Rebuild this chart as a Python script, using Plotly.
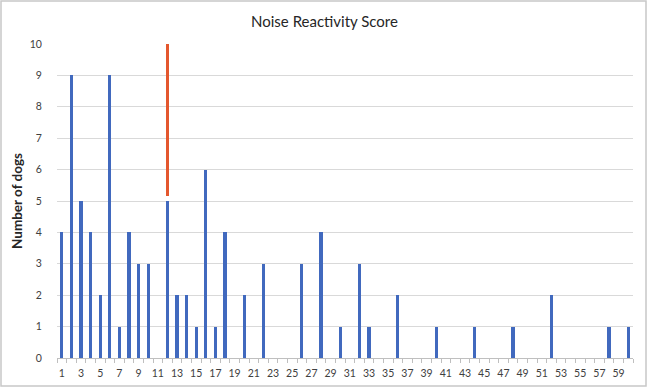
import plotly.graph_objects as go

scores = list(range(1, 61))
counts = [4, 9, 5, 4, 2, 9, 1, 4, 3, 3,
          0, 5, 2, 2, 1, 6, 1, 4, 0, 2,
          0, 3, 0, 0, 0, 3, 0, 4, 0, 1,
          0, 3, 1, 0, 0, 2, 0, 0, 0, 1,
          0, 0, 0, 1, 0, 0, 0, 1, 0, 0,
          0, 2, 0, 0, 0, 0, 0, 1, 0, 1]
marker_x = [12]
marker_base = [5.15]
marker_top = [10]
tick_labels = [str(v) for v in range(1, 60, 2)]

W, H = 649, 389
ml, mr, mt, mb = 57, 16, 44, 31
pw, ph = W - ml - mr, H - mt - mb

fig = go.Figure()
fig.add_trace(go.Bar(x=scores, y=counts, width=0.32,
                     marker=dict(color="#4169BE", line=dict(width=0)),
                     showlegend=False))
fig.add_trace(go.Bar(x=marker_x, y=[t - b for t, b in zip(marker_top, marker_base)],
                     base=marker_base, width=0.32,
                     marker=dict(color="#E4572E", line=dict(width=0)),
                     showlegend=False))

def px_x(p):
    return (p - ml) / pw

def px_y(p):
    return (H - mb - p) / ph

fig.add_shape(type="rect", xref="paper", yref="paper",
              x0=px_x(1), x1=px_x(646), y0=px_y(1), y1=px_y(386),
              line=dict(color="#C8C8C8", width=1.5), layer="below")

fig.update_layout(
    width=W, height=H,
    margin=dict(l=ml, r=mr, t=mt, b=mb, autoexpand=False),
    paper_bgcolor="white", plot_bgcolor="white",
    barmode="overlay",
    font=dict(family="Lato, Open Sans, sans-serif", color="#404040"),
    title=dict(text="Noise Reactivity Score", x=0.5, xanchor="center",
               y=1 - 22 / H, yanchor="middle",
               font=dict(size=15, color="#262626")),
    xaxis=dict(range=[0.5, 60.5], tickmode="array",
               tickvals=list(range(1, 60, 2)), ticktext=tick_labels,
               ticks="outside", ticklen=5, tickcolor="rgba(0,0,0,0)",
               showgrid=False, zeroline=False,
               showline=True, linecolor="#BFBFBF", linewidth=1,
               tickfont=dict(size=10.5, color="#404040"),
               minor=dict(tickmode="linear", tick0=0.5, dtick=1,
                          ticks="outside", ticklen=4, tickcolor="#BFBFBF",
                          showgrid=False)),
    yaxis=dict(range=[0, 10], dtick=1, showgrid=True, gridcolor="#D9D9D9",
               gridwidth=1, zeroline=False, showline=False,
               ticks="outside", ticklen=12, tickcolor="rgba(0,0,0,0)",
               tickfont=dict(size=10.5, color="#404040"),
               title=dict(text="<b>Number of dogs</b>", standoff=3,
                          font=dict(size=13.5, color="#262626"))),
    bargap=0,
)

fig.write_html("out.html", config={"displayModeBar": False},
               post_script="document.body.style.margin='0';document.body.style.overflow='hidden';")
